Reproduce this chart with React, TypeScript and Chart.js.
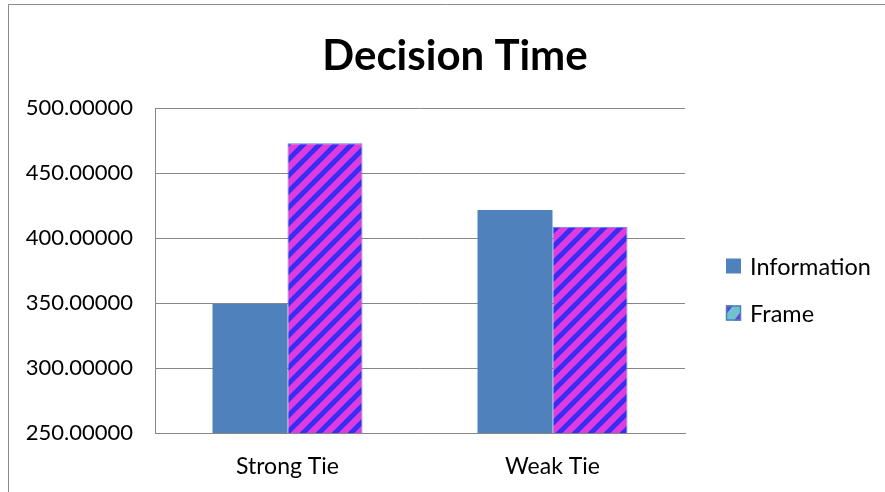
import React, { useEffect, useRef } from "react";
import { Chart, registerables } from "chart.js";

Chart.register(...registerables);

const categories = ["Strong Tie", "Weak Tie"];
const informationValues = [349.2, 421.5];
const frameValues = [472.8, 408.6];
const seriesLabels = ["Information", "Frame"];
const yMin = 250;
const yMax = 500;
const yStep = 50;

const FONT = "Lato, 'Noto Sans', sans-serif";
const INFO_COLOR = "#4f81bd";
const MAGENTA = "#dd3ddf";
const STRIPE_BLUE = "#3a2cf2";
const GRID = "#878787";

// "/" diagonal stripes used as the Frame bar fill
function makeStripePattern(): CanvasPattern | string {
  const size = 16;
  const c = document.createElement("canvas");
  c.width = size;
  c.height = size;
  const g = c.getContext("2d");
  if (!g) return MAGENTA;
  g.fillStyle = MAGENTA;
  g.fillRect(0, 0, size, size);
  g.strokeStyle = STRIPE_BLUE;
  g.lineWidth = 5;
  for (const off of [-size, 0, size]) {
    g.beginPath();
    g.moveTo(off - 2, size + 2);
    g.lineTo(off + size + 2, -2);
    g.stroke();
  }
  const p = g.createPattern(c, "repeat");
  return p || MAGENTA;
}

const decorPlugin = {
  id: "decor",
  afterDraw(chart: any) {
    const ctx: CanvasRenderingContext2D = chart.ctx;
    ctx.save();
    // outer chart frame
    ctx.strokeStyle = "#8a8a8a";
    ctx.lineWidth = 1;
    ctx.beginPath();
    ctx.moveTo(8.5, 492);
    ctx.lineTo(8.5, 4.5);
    ctx.lineTo(885, 4.5);
    ctx.stroke();

    // title
    ctx.fillStyle = "#000";
    ctx.font = `bold 42px ${FONT}`;
    ctx.textAlign = "center";
    ctx.textBaseline = "middle";
    ctx.fillText("Decision Time", 455, 56);

    // legend
    ctx.font = `23.5px ${FONT}`;
    ctx.textAlign = "left";
    const items = [
      { y: 266, kind: "info" },
      { y: 313, kind: "frame" },
    ];
    items.forEach((it, i) => {
      const x = 726;
      const s = 15;
      const top = it.y - 7.5;
      if (it.kind === "info") {
        ctx.fillStyle = INFO_COLOR;
        ctx.fillRect(x, top, s, s);
      } else {
        ctx.fillStyle = "#6fc3cf";
        ctx.fillRect(x, top, s, s);
        ctx.fillStyle = "#6a3ed8";
        ctx.beginPath();
        ctx.moveTo(x, top);
        ctx.lineTo(x + 7, top);
        ctx.lineTo(x, top + 9);
        ctx.closePath();
        ctx.fill();
        ctx.beginPath();
        ctx.moveTo(x + s, top + s);
        ctx.lineTo(x + s - 7, top + s);
        ctx.lineTo(x + s, top + s - 9);
        ctx.closePath();
        ctx.fill();
        ctx.strokeStyle = INFO_COLOR;
        ctx.lineWidth = 1.5;
        ctx.strokeRect(x + 0.5, top + 0.5, s - 1, s - 1);
      }
      ctx.fillStyle = "#000";
      ctx.fillText(seriesLabels[i], 750, it.y + 1);
    });
    ctx.restore();
  },
};

export default function App() {
  const ref = useRef<HTMLCanvasElement | null>(null);

  useEffect(() => {
    if (!ref.current) return;
    const stripes = makeStripePattern();
    const chart = new Chart(ref.current, {
      type: "bar",
      data: {
        labels: categories,
        datasets: [
          {
            label: seriesLabels[0],
            data: informationValues,
            backgroundColor: INFO_COLOR,
            borderWidth: 0,
            categoryPercentage: 0.566,
            barPercentage: 1,
          },
          {
            label: seriesLabels[1],
            data: frameValues,
            backgroundColor: stripes as any,
            borderColor: "#5b86bf",
            borderWidth: 1,
            categoryPercentage: 0.566,
            barPercentage: 1,
          },
        ],
      },
      options: {
        responsive: false,
        animation: false,
        devicePixelRatio: 1,
        layout: { padding: { left: 0, top: 108, right: 200, bottom: 0 } },
        plugins: {
          legend: { display: false },
          title: { display: false },
          tooltip: { enabled: false },
        },
        scales: {
          x: {
            grid: { display: false, drawTicks: false },
            border: { display: true, color: GRID, width: 1 },
            ticks: {
              color: "#000",
              font: { family: FONT, size: 23 },
              padding: 20,
            },
            afterFit: (s: any) => {
              s.height = 59;
            },
          },
          y: {
            min: yMin,
            max: yMax,
            grid: { color: GRID, lineWidth: 1, drawTicks: false },
            border: { display: true, color: GRID, width: 1 },
            ticks: {
              stepSize: yStep,
              color: "#000",
              font: { family: FONT, size: 22 },
              padding: 22,
              callback: (v: any) => Number(v).toFixed(5),
            },
            afterFit: (s: any) => {
              s.width = 155;
            },
          },
        },
      },
      plugins: [decorPlugin],
    });
    return () => chart.destroy();
  }, []);

  return (
    <div style={{ position: "fixed", left: 0, top: 0, width: 885, height: 492, overflow: "hidden", background: "#fff" }}>
      <canvas ref={ref} width={885} height={492} style={{ display: "block" }} />
    </div>
  );
}
